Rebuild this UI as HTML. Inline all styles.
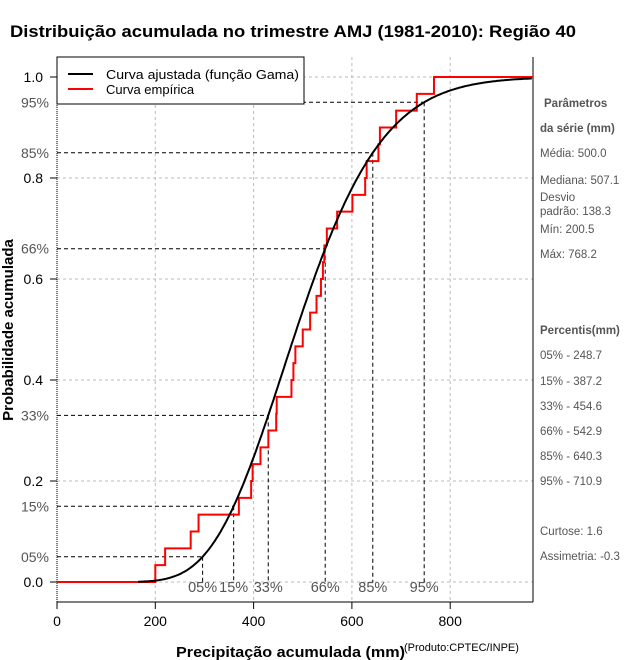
<!DOCTYPE html>
<html><head><meta charset="utf-8">
<style>
html,body{margin:0;padding:0;background:#fff;}
svg{display:block;font-family:"Liberation Sans",sans-serif;}
</style></head>
<body>
<svg id="chart" width="640" height="660" viewBox="0 0 640 660" xmlns="http://www.w3.org/2000/svg">
<text x="10" y="37" font-size="17" font-weight="bold" textLength="566" lengthAdjust="spacingAndGlyphs">Distribuição acumulada no trimestre AMJ (1981-2010): Região 40</text>
<g id="grid"></g>
<g id="axes"></g>
<g id="pct"></g>
<g id="series"></g>
<g>
<rect x="57" y="57" width="247" height="47" fill="#fff" stroke="#000" stroke-width="1"/>
<line x1="68" y1="74" x2="93" y2="74" stroke="#000" stroke-width="2"/>
<text x="106" y="79" font-size="13" textLength="193" lengthAdjust="spacingAndGlyphs">Curva ajustada (função Gama)</text>
<line x1="68" y1="89" x2="93" y2="89" stroke="#f00" stroke-width="2"/>
<text x="106" y="94" font-size="13">Curva empírica</text>
</g>
<g font-size="11.5" fill="#555">
<text x="544" y="107" font-weight="bold">Parâmetros</text>
<text x="540" y="132" font-weight="bold">da série (mm)</text>
<text x="540" y="157">Média: 500.0</text>
<text x="540" y="184">Mediana: 507.1</text>
<text x="540" y="201">Desvio</text>
<text x="540" y="215">padrão: 138.3</text>
<text x="540" y="233">Mín: 200.5</text>
<text x="540" y="258">Máx: 768.2</text>
<text x="540" y="334" font-weight="bold">Percentis(mm)</text>
<text x="540" y="359">05% - 248.7</text>
<text x="540" y="385">15% - 387.2</text>
<text x="540" y="410">33% - 454.6</text>
<text x="540" y="435">66% - 542.9</text>
<text x="540" y="460">85% - 640.3</text>
<text x="540" y="485">95% - 710.9</text>
<text x="540" y="535">Curtose: 1.6</text>
<text x="540" y="560">Assimetria: -0.3</text>
</g>
<text x="176" y="657" font-size="15" font-weight="bold" textLength="229" lengthAdjust="spacingAndGlyphs">Precipitação acumulada (mm)</text>
<text x="404" y="651" font-size="11">(Produto:CPTEC/INPE)</text>
<text transform="translate(13,330) rotate(-90)" font-size="15" font-weight="bold" text-anchor="middle">Probabilidade acumulada</text>
</svg>
<script>
const obsValues=[200,220,272,288,370,395,398,414,430,446,447,477,481,485,500,515,528,537,541,544,549,570,601,627,630,654,657,690,732,767];
const gammaMean=500.0;
const gammaSd=138.3;
const pctLevels=[0.05,0.15,0.33,0.66,0.85,0.95];
const pctLabels=["05%","15%","33%","66%","85%","95%"];
const xTicks=[0,200,400,600,800];
const yTicks=[0,0.2,0.4,0.6,0.8,1.0];
const yTickLabels=["0.0","0.2","0.4","0.6","0.8","1.0"];

const NS="http://www.w3.org/2000/svg";
const X0=57,XR=533,YB=602;
const xs=v=>57+v*0.4915;
const ys=p=>582-p*505;
function mk(tag,attrs,parent){const e=document.createElementNS(NS,tag);for(const k in attrs)e.setAttribute(k,attrs[k]);parent.appendChild(e);return e;}
function lgamma(z){const g=7,c=[0.99999999999980993,676.5203681218851,-1259.1392167224028,771.32342877765313,-176.61502916214059,12.507343278686905,-0.13857109526572012,9.9843695780195716e-6,1.5056327351493116e-7];z-=1;let x=c[0];for(let i=1;i<g+2;i++)x+=c[i]/(z+i);const t=z+g+0.5;return 0.5*Math.log(2*Math.PI)+(z+0.5)*Math.log(t)-t+Math.log(x);}
const kShape=(gammaMean/gammaSd)**2, theta=gammaSd*gammaSd/gammaMean;
function gcdf(x){if(x<=0)return 0;const xx=x/theta;let sum=1/kShape,term=sum;for(let n=1;n<500;n++){term*=xx/(kShape+n);sum+=term;if(term<sum*1e-12)break;}return Math.min(1,Math.exp(-xx+kShape*Math.log(xx)-lgamma(kShape))*sum);}
function gq(p){let lo=0,hi=2000;for(let i=0;i<60;i++){const m=(lo+hi)/2;if(gcdf(m)<p)lo=m;else hi=m;}return (lo+hi)/2;}

const grid=document.getElementById('grid'),axes=document.getElementById('axes'),pct=document.getElementById('pct'),series=document.getElementById('series');
xTicks.forEach((t,i)=>{
  const gl=mk('line',{x1:xs(t),y1:57,x2:xs(t),y2:YB,stroke:'#bbb','stroke-dasharray':'3,3'},grid);
  
  
  const tk=mk('line',{x1:xs(t),y1:YB,x2:xs(t),y2:YB+7,stroke:'#000'},axes);
  
  
  const tl=mk('text',{x:xs(t),y:YB+24,'font-size':14,'text-anchor':'middle'},axes);
  tl.textContent=t;
  
  
});
yTicks.forEach((t,i)=>{
  const gl=mk('line',{x1:X0,y1:ys(t),x2:XR,y2:ys(t),stroke:'#bbb','stroke-dasharray':'3,3'},grid);
  
  
  const tk=mk('line',{x1:50,y1:ys(t),x2:X0,y2:ys(t),stroke:'#000'},axes);
  
  
  const tl=mk('text',{x:43,y:ys(t)+5,'font-size':14,'text-anchor':'end'},axes);
  tl.textContent=yTickLabels[i];
  
  
});
const ax=mk('line',{x1:X0,y1:YB,x2:XR,y2:YB,stroke:'#000'},axes);


const ay=mk('line',{x1:X0,y1:57,x2:X0,y2:YB,stroke:'#000','stroke-dasharray':'1,1'},axes);


const ar=mk('line',{x1:XR,y1:57,x2:XR,y2:YB,stroke:'#000'},axes);



pctLevels.forEach((p,i)=>{
  const q=gq(p),x=xs(q),y=ys(p);
  const h=mk('line',{x1:X0,y1:y,x2:x,y2:y,stroke:'#000','stroke-dasharray':'4,3'},pct);
  
  
  const v=mk('line',{x1:x,y1:y,x2:x,y2:ys(0),stroke:'#000','stroke-dasharray':'4,3'},pct);
  
  
  const yl=mk('text',{x:49,y:y+5,'font-size':14,'text-anchor':'end',fill:'#555'},pct);
  yl.textContent=pctLabels[i];
  
  
  const xl=mk('text',{x:x,y:ys(0)+10,'font-size':14.5,'text-anchor':'middle',fill:'#555'},pct);
  xl.textContent=pctLabels[i];
  
  
});

const sorted=obsValues.slice().sort((a,b)=>a-b),n=sorted.length;
let d=`M${X0},${ys(0)}`;
sorted.forEach((v,i)=>{d+=` H${xs(v)} V${ys((i+1)/n)}`;});
d+=` H${XR}`;
const emp=mk('path',{d:d,fill:'none',stroke:'#f00','stroke-width':2},series);


let gd='';
for(let v=165;v<=966;v+=3){gd+=(gd?' L':'M')+xs(v).toFixed(1)+','+ys(gcdf(v)).toFixed(1);}
const fit=mk('path',{d:gd,fill:'none',stroke:'#000','stroke-width':2},series);


</script>
</body></html>
